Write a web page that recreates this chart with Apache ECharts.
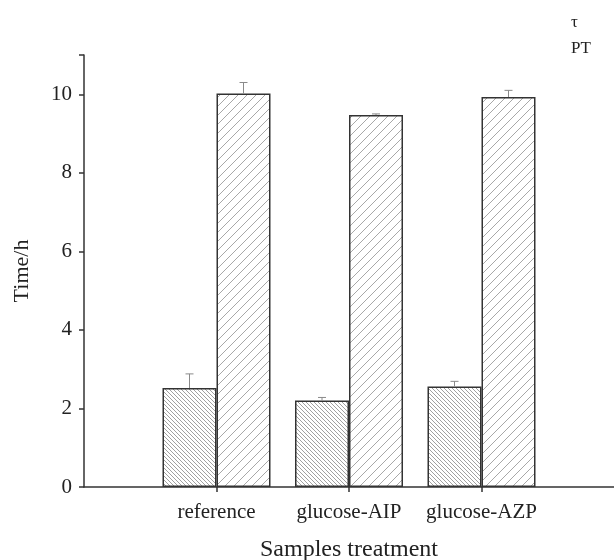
<!DOCTYPE html>
<html>
<head>
<meta charset="utf-8">
<script src="https://cdn.jsdelivr.net/npm/echarts@6/dist/echarts.min.js"></script>
<style>
  html, body { margin: 0; padding: 0; background: #fff; }
  #main { width: 614px; height: 560px; }
</style>
</head>
<body>
<div id="main"></div>
<script>
// blank slots at both ends so the three groups sit on inner ticks
const categories = ["", "reference", "glucose-AIP", "glucose-AZP", ""];
const tauValues = [null, 2.52, 2.2, 2.56, null];
const tauErrors = [null, 0.36, 0.08, 0.13, null];
const ptValues = [null, 10.02, 9.47, 9.93, null];
const ptErrors = [null, 0.28, 0.03, 0.17, null];
const yTicks = [0, 2, 4, 6, 8, 10];

const FONT = "Liberation Serif";
const BAR_W = 54;

function hatch(size, dir, color, lw) {
  const c = document.createElement("canvas");
  c.width = size;
  c.height = size;
  const ctx = c.getContext("2d");
  ctx.fillStyle = "#fff";
  ctx.fillRect(0, 0, size, size);
  ctx.strokeStyle = color;
  ctx.lineWidth = lw;
  ctx.beginPath();
  if (dir === "back") {
    ctx.moveTo(-1, -1); ctx.lineTo(size + 1, size + 1);
    ctx.moveTo(-1, size - 1); ctx.lineTo(1, size + 1);
    ctx.moveTo(size - 1, -1); ctx.lineTo(size + 1, 1);
  } else {
    ctx.moveTo(-1, size + 1); ctx.lineTo(size + 1, -1);
    ctx.moveTo(-1, 1); ctx.lineTo(1, -1);
    ctx.moveTo(size - 1, size + 1); ctx.lineTo(size + 1, size - 1);
  }
  ctx.stroke();
  return c;
}

function errData(vals, errs) {
  const out = [];
  vals.forEach((v, i) => {
    if (v != null) out.push([i, v, errs[i]]);
  });
  return out;
}

function errRender(offset) {
  return function (params, api) {
    const i = api.value(0);
    const top = api.coord([i, api.value(1) + api.value(2)]);
    const base = api.coord([i, api.value(1)]);
    const x = top[0] + offset;
    const style = { stroke: "#8a8a8a", lineWidth: 1 };
    return {
      type: "group",
      children: [
        { type: "line", shape: { x1: x, y1: base[1], x2: x, y2: top[1] }, style: style },
        { type: "line", shape: { x1: x - 4, y1: top[1], x2: x + 4, y2: top[1] }, style: style }
      ]
    };
  };
}

const chart = echarts.init(document.getElementById("main"));

const option = {
  animation: false,
  textStyle: { fontFamily: FONT },
  grid: {
    left: 84, right: 0, top: 55, bottom: 73,
    containLabel: false,
    outerBoundsMode: "none"
  },
  legend: {
    data: ["τ", "PT"],
    orient: "vertical",
    left: 559,
    top: 9,
    itemWidth: 1,
    itemHeight: 1,
    itemGap: 8,
    icon: "rect",
    itemStyle: { opacity: 0 },
    textStyle: { fontFamily: FONT, fontSize: 17, color: "#222", lineHeight: 18 }
  },
  xAxis: {
    type: "category",
    data: categories,
    boundaryGap: false,
    name: "Samples treatment",
    nameLocation: "middle",
    nameGap: 51,
    nameTextStyle: { fontFamily: FONT, fontSize: 24, color: "#222" },
    axisLine: { lineStyle: { color: "#333", width: 1.5 } },
    axisTick: {
      length: 5,
      interval: (idx, val) => val !== "",
      lineStyle: { color: "#333", width: 1.5 }
    },
    axisLabel: { fontFamily: FONT, fontSize: 21, color: "#222", margin: 15, interval: 0 },
    splitLine: { show: false }
  },
  yAxis: {
    type: "value",
    min: 0,
    max: 11,
    interval: 2,
    name: "Time/h",
    nameLocation: "middle",
    nameGap: 51,
    nameTextStyle: { fontFamily: FONT, fontSize: 22, color: "#222" },
    axisLine: { show: true, lineStyle: { color: "#333", width: 1.5 } },
    axisTick: { show: true, length: 5, lineStyle: { color: "#333", width: 1.5 } },
    axisLabel: {
      fontFamily: FONT, fontSize: 21, color: "#222", margin: 12,
      formatter: v => (yTicks.indexOf(v) >= 0 ? String(v) : "")
    },
    splitLine: { show: false }
  },
  series: [
    {
      name: "τ",
      type: "bar",
      data: tauValues,
      barWidth: BAR_W,
      barGap: "0%",
      itemStyle: {
        color: { image: hatch(4, "back", "#a0a0a0", 1), repeat: "repeat" },
        borderColor: "#333",
        borderWidth: 1.5
      }
    },
    {
      name: "PT",
      type: "bar",
      data: ptValues,
      barWidth: BAR_W,
      barGap: "0%",
      itemStyle: {
        color: { image: hatch(9, "fwd", "#a8a8a8", 1), repeat: "repeat" },
        borderColor: "#333",
        borderWidth: 1.5
      }
    },
    {
      name: "tauErr",
      type: "custom",
      renderItem: errRender(-BAR_W / 2),
      data: errData(tauValues, tauErrors),
      z: 5
    },
    {
      name: "ptErr",
      type: "custom",
      renderItem: errRender(BAR_W / 2),
      data: errData(ptValues, ptErrors),
      z: 5
    }
  ]
};

chart.setOption(option);
</script>
</body>
</html>
